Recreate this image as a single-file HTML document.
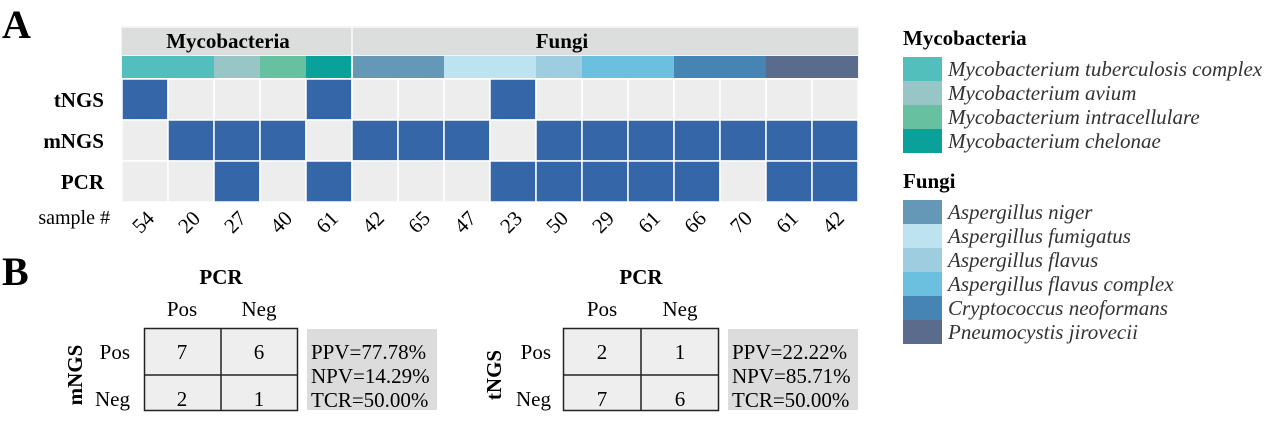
<!DOCTYPE html>
<html><head><meta charset="utf-8"><style>
html,body{margin:0;padding:0;background:#fff;}
svg{display:block;font-family:"Liberation Serif",serif;}
</style></head><body>
<svg width="1267" height="425" viewBox="0 0 1267 425" xmlns="http://www.w3.org/2000/svg">
<text x="2" y="38" font-size="40" font-weight="bold">A</text>
<rect x="121" y="26" width="738" height="176" fill="#f4f4f4"/>
<rect x="122" y="28" width="229" height="27" fill="#dcdddd"/>
<rect x="353" y="28" width="505" height="27" fill="#dcdddd"/>
<text x="228" y="48" font-size="21" font-weight="bold" text-anchor="middle">Mycobacteria</text>
<text x="562" y="48" font-size="21" font-weight="bold" text-anchor="middle">Fungi</text>
<g font-size="21" font-weight="bold" text-anchor="end">
<text x="104" y="107">tNGS</text>
<text x="104" y="148">mNGS</text>
<text x="104" y="189">PCR</text>
</g>
<text x="110" y="224" font-size="20" text-anchor="end">sample #</text>

<!-- legend -->
<text x="903" y="45" font-size="21" font-weight="bold">Mycobacteria</text>
<g font-size="21" font-style="italic" fill="#333">
<rect x="903" y="57" width="39" height="24" fill="#52bfbd"/><text x="948" y="76">Mycobacterium tuberculosis complex</text>
<rect x="903" y="81" width="39" height="24" fill="#98c6c6"/><text x="948" y="100">Mycobacterium avium</text>
<rect x="903" y="105" width="39" height="24" fill="#67c09f"/><text x="948" y="124">Mycobacterium intracellulare</text>
<rect x="903" y="129" width="39" height="24" fill="#0aa19a"/><text x="948" y="148">Mycobacterium chelonae</text>
</g>
<text x="903" y="188" font-size="21" font-weight="bold">Fungi</text>
<g font-size="21" font-style="italic" fill="#333">
<rect x="903" y="200" width="39" height="24" fill="#6597b7"/><text x="948" y="219">Aspergillus niger</text>
<rect x="903" y="224" width="39" height="24" fill="#bde3f1"/><text x="948" y="243">Aspergillus fumigatus</text>
<rect x="903" y="248" width="39" height="24" fill="#9ecde0"/><text x="948" y="267">Aspergillus flavus</text>
<rect x="903" y="272" width="39" height="24" fill="#6bbfdf"/><text x="948" y="291">Aspergillus flavus complex</text>
<rect x="903" y="296" width="39" height="24" fill="#4684b4"/><text x="948" y="315">Cryptococcus neoformans</text>
<rect x="903" y="320" width="39" height="24" fill="#5b6b8b"/><text x="948" y="339">Pneumocystis jirovecii</text>
</g>

<!-- B -->
<text x="2" y="285" font-size="40" font-weight="bold">B</text>
<g font-size="21">
<text x="221" y="284" font-weight="bold" text-anchor="middle">PCR</text>
<text x="182" y="316" text-anchor="middle">Pos</text>
<text x="259" y="316" text-anchor="middle">Neg</text>
<text x="130" y="359" text-anchor="end">Pos</text>
<text x="130" y="406" text-anchor="end">Neg</text>
<text transform="translate(82,375) rotate(-90)" font-weight="bold" text-anchor="middle">mNGS</text>
<rect x="144.5" y="328.5" width="153" height="82" fill="#eeeeee" stroke="#222" stroke-width="1.5"/>
<line x1="221" y1="328.5" x2="221" y2="410.5" stroke="#222" stroke-width="1.5"/>
<line x1="144.5" y1="375" x2="297.5" y2="375" stroke="#222" stroke-width="1.5"/>
<text x="182" y="359" text-anchor="middle">7</text>
<text x="259" y="359" text-anchor="middle">6</text>
<text x="182" y="406" text-anchor="middle">2</text>
<text x="259" y="406" text-anchor="middle">1</text>
<rect x="307" y="329" width="130" height="81" fill="#dcdcdc"/>
<text x="311" y="359">PPV=77.78%</text>
<text x="311" y="383">NPV=14.29%</text>
<text x="311" y="407">TCR=50.00%</text>

<text x="641" y="284" font-weight="bold" text-anchor="middle">PCR</text>
<text x="602" y="316" text-anchor="middle">Pos</text>
<text x="680" y="316" text-anchor="middle">Neg</text>
<text x="551" y="359" text-anchor="end">Pos</text>
<text x="551" y="406" text-anchor="end">Neg</text>
<text transform="translate(501,375) rotate(-90)" font-weight="bold" text-anchor="middle">tNGS</text>
<rect x="563.5" y="328.5" width="155" height="82" fill="#eeeeee" stroke="#222" stroke-width="1.5"/>
<line x1="641" y1="328.5" x2="641" y2="410.5" stroke="#222" stroke-width="1.5"/>
<line x1="563.5" y1="375" x2="718.5" y2="375" stroke="#222" stroke-width="1.5"/>
<text x="602" y="359" text-anchor="middle">2</text>
<text x="680" y="359" text-anchor="middle">1</text>
<text x="602" y="406" text-anchor="middle">7</text>
<text x="680" y="406" text-anchor="middle">6</text>
<rect x="728" y="329" width="130" height="81" fill="#dcdcdc"/>
<text x="732" y="359">PPV=22.22%</text>
<text x="732" y="383">NPV=85.71%</text>
<text x="732" y="407">TCR=50.00%</text>
</g>

<g>
<rect x="122" y="56" width="92" height="22" fill="#52bfbd"/>
<rect x="214" y="56" width="46" height="22" fill="#98c6c6"/>
<rect x="260" y="56" width="46" height="22" fill="#67c09f"/>
<rect x="306" y="56" width="46" height="22" fill="#0aa19a"/>
<rect x="352" y="56" width="92" height="22" fill="#6597b7"/>
<rect x="444" y="56" width="92" height="22" fill="#bde3f1"/>
<rect x="536" y="56" width="46" height="22" fill="#9ecde0"/>
<rect x="582" y="56" width="92" height="22" fill="#6bbfdf"/>
<rect x="674" y="56" width="92" height="22" fill="#4684b4"/>
<rect x="766" y="56" width="92" height="22" fill="#5b6b8b"/>
</g>
<g stroke="#fff" stroke-width="1.5">
<rect x="122" y="79" width="46" height="41" fill="#3566a8"/><rect x="168" y="79" width="46" height="41" fill="#ededed"/><rect x="214" y="79" width="46" height="41" fill="#ededed"/><rect x="260" y="79" width="46" height="41" fill="#ededed"/><rect x="306" y="79" width="46" height="41" fill="#3566a8"/><rect x="352" y="79" width="46" height="41" fill="#ededed"/><rect x="398" y="79" width="46" height="41" fill="#ededed"/><rect x="444" y="79" width="46" height="41" fill="#ededed"/><rect x="490" y="79" width="46" height="41" fill="#3566a8"/><rect x="536" y="79" width="46" height="41" fill="#ededed"/><rect x="582" y="79" width="46" height="41" fill="#ededed"/><rect x="628" y="79" width="46" height="41" fill="#ededed"/><rect x="674" y="79" width="46" height="41" fill="#ededed"/><rect x="720" y="79" width="46" height="41" fill="#ededed"/><rect x="766" y="79" width="46" height="41" fill="#ededed"/><rect x="812" y="79" width="46" height="41" fill="#ededed"/>
<rect x="122" y="120" width="46" height="41" fill="#ededed"/><rect x="168" y="120" width="46" height="41" fill="#3566a8"/><rect x="214" y="120" width="46" height="41" fill="#3566a8"/><rect x="260" y="120" width="46" height="41" fill="#3566a8"/><rect x="306" y="120" width="46" height="41" fill="#ededed"/><rect x="352" y="120" width="46" height="41" fill="#3566a8"/><rect x="398" y="120" width="46" height="41" fill="#3566a8"/><rect x="444" y="120" width="46" height="41" fill="#3566a8"/><rect x="490" y="120" width="46" height="41" fill="#ededed"/><rect x="536" y="120" width="46" height="41" fill="#3566a8"/><rect x="582" y="120" width="46" height="41" fill="#3566a8"/><rect x="628" y="120" width="46" height="41" fill="#3566a8"/><rect x="674" y="120" width="46" height="41" fill="#3566a8"/><rect x="720" y="120" width="46" height="41" fill="#3566a8"/><rect x="766" y="120" width="46" height="41" fill="#3566a8"/><rect x="812" y="120" width="46" height="41" fill="#3566a8"/>
<rect x="122" y="161" width="46" height="41" fill="#ededed"/><rect x="168" y="161" width="46" height="41" fill="#ededed"/><rect x="214" y="161" width="46" height="41" fill="#3566a8"/><rect x="260" y="161" width="46" height="41" fill="#ededed"/><rect x="306" y="161" width="46" height="41" fill="#3566a8"/><rect x="352" y="161" width="46" height="41" fill="#ededed"/><rect x="398" y="161" width="46" height="41" fill="#ededed"/><rect x="444" y="161" width="46" height="41" fill="#ededed"/><rect x="490" y="161" width="46" height="41" fill="#3566a8"/><rect x="536" y="161" width="46" height="41" fill="#3566a8"/><rect x="582" y="161" width="46" height="41" fill="#3566a8"/><rect x="628" y="161" width="46" height="41" fill="#3566a8"/><rect x="674" y="161" width="46" height="41" fill="#3566a8"/><rect x="720" y="161" width="46" height="41" fill="#ededed"/><rect x="766" y="161" width="46" height="41" fill="#3566a8"/><rect x="812" y="161" width="46" height="41" fill="#3566a8"/>
</g>
<line x1="352" y1="28" x2="352" y2="78" stroke="#f4f4f4" stroke-width="2"/>
<g font-size="21" text-anchor="middle">
<text transform="translate(148,227) rotate(-45)">54</text>
<text transform="translate(194,227) rotate(-45)">20</text>
<text transform="translate(240,227) rotate(-45)">27</text>
<text transform="translate(286,227) rotate(-45)">40</text>
<text transform="translate(332,227) rotate(-45)">61</text>
<text transform="translate(378,227) rotate(-45)">42</text>
<text transform="translate(424,227) rotate(-45)">65</text>
<text transform="translate(470,227) rotate(-45)">47</text>
<text transform="translate(516,227) rotate(-45)">23</text>
<text transform="translate(562,227) rotate(-45)">50</text>
<text transform="translate(608,227) rotate(-45)">29</text>
<text transform="translate(654,227) rotate(-45)">61</text>
<text transform="translate(700,227) rotate(-45)">66</text>
<text transform="translate(746,227) rotate(-45)">70</text>
<text transform="translate(792,227) rotate(-45)">61</text>
<text transform="translate(838,227) rotate(-45)">42</text>
</g>
</svg>
</body></html>
